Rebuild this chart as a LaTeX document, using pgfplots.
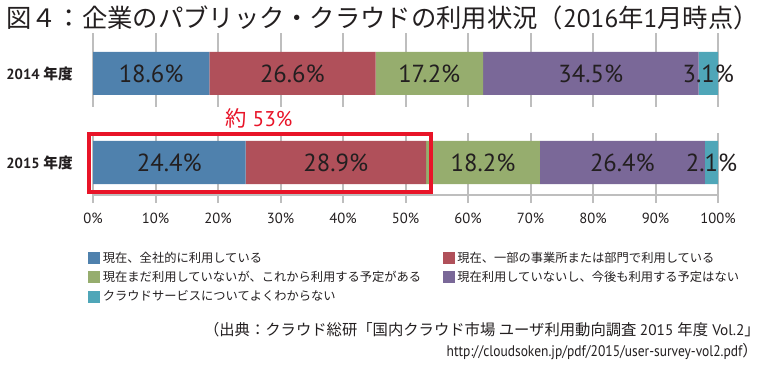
\documentclass[border=0pt]{standalone}
\usepackage{fontspec}
\setmainfont{PT Sans}
\newfontfamily\jp{Noto Sans CJK JP}
\usepackage{pgfplots}
\usepackage{pgfplotstable}
\pgfplotsset{compat=1.18}
\definecolor{cA}{RGB}{79,129,173}
\definecolor{cB}{RGB}{176,80,90}
\definecolor{cC}{RGB}{150,173,110}
\definecolor{cD}{RGB}{122,104,152}
\definecolor{cE}{RGB}{79,166,184}
\definecolor{gridg}{RGB}{190,190,190}
\definecolor{txt}{RGB}{35,31,32}
\definecolor{myred}{RGB}{232,20,40}
\pgfplotstableread{
y a b c d e
-73.5 18.6 26.6 17.2 34.5 3.1
-162.5 24.4 28.9 18.2 26.4 2.1
}\datatable
\pgfplotsset{
  base/.style={scale only axis, width=468.75pt, height=121.5pt,
    xmin=0, xmax=100, ymin=-195, ymax=-33, at={(69.75pt,-146.25pt)}, anchor=south west,
    /pgf/number format/assume math mode=true},
  sq/.style={legend image code/.code={\fill[##1] (0pt,-4.5pt) rectangle (9pt,4.5pt);}},
  lab/.style={only marks, mark=*, mark size=0pt, mark options={draw=none,fill=none}}
}
\begin{document}
\begin{tikzpicture}[x=0.75pt,y=-0.75pt]
\path[use as bounding box] (0,0) rectangle (766,370);
\begin{axis}[base,
  xbar stacked, bar width=32.25pt,
  axis x line=bottom, axis y line=left,
  x axis line style={-, gridg, line width=1.5pt},
  y axis line style={draw=none},
  xtick={0,10,...,100}, xticklabel={\pgfmathprintnumber{\tick}\%},
  xmajorgrids, grid style={gridg, line width=1.5pt},
  tick align=outside, major tick length=6pt,
  xtick style={gridg, line width=1.5pt},
  ytick={-162.5,-73.5}, yticklabels={2015 {\jp 年度}, 2014 {\jp 年度}},
  ytick style={draw=none},
  yticklabel style={anchor=east, inner sep=0pt, xshift=-9pt, font=\bfseries\fontsize{11}{13}\selectfont, text=txt},
  xticklabel style={font=\fontsize{11}{13}\selectfont, text=txt, yshift=-4pt},
  legend columns=2, legend cell align=left,
  legend style={at={(-0.008,-0.333)}, anchor=north west, draw=none, fill=none,
    font=\jp\fontsize{9.2}{10.5}\selectfont, text=txt, inner sep=0pt, row sep=1.3pt,
    /tikz/every even column/.append style={column sep=14pt}},
]
\addplot[fill=cA, draw=none, sq] table[x=a, y=y]{\datatable};
\addplot[fill=cB, draw=none, sq] table[x=b, y=y]{\datatable};
\addplot[fill=cC, draw=none, sq] table[x=c, y=y]{\datatable};
\addplot[fill=cD, draw=none, sq] table[x=d, y=y]{\datatable};
\addplot[fill=cE, draw=none, sq] table[x=e, y=y]{\datatable};
\legend{現在、全社的に利用している, 現在、一部の事業所または部門で利用している, 現在まだ利用していないが、これから利用する予定がある, 現在利用していないし、今後も利用する予定はない, クラウドサービスについてよくわからない}
\end{axis}
\fill[white] (88,107) rectangle (724,133);
\begin{axis}[base, hide axis,
  point meta=explicit,
  nodes near coords={\pgfmathprintnumber[fixed,fixed zerofill,precision=1]{\pgfplotspointmeta}\%},
  every node near coord/.append style={anchor=center, font=\fontsize{18.5}{20}\selectfont, text=txt, inner sep=0pt},
]
\addplot[lab] table[x expr=\thisrow{a}/2, y=y, meta=a]{\datatable};
\addplot[lab] table[x expr=\thisrow{a}+\thisrow{b}/2, y=y, meta=b]{\datatable};
\addplot[lab] table[x expr=\thisrow{a}+\thisrow{b}+\thisrow{c}/2, y=y, meta=c]{\datatable};
\addplot[lab] table[x expr=\thisrow{a}+\thisrow{b}+\thisrow{c}+\thisrow{d}/2, y=y, meta=d]{\datatable};
\addplot[lab] table[x expr=\thisrow{a}+\thisrow{b}+\thisrow{c}+\thisrow{d}+\thisrow{e}/2, y=y, meta=e]{\datatable};
\end{axis}
\draw[myred, line width=3.4pt] (89,134) rectangle (431,192);
\node[myred, font=\fontsize{16}{18}\selectfont, inner sep=0pt] at (259,118) {{\jp 約} 53\%};
\node[anchor=west, inner sep=0pt, text=txt, font=\fontsize{19}{22}\selectfont] at (6,18)
  {{\jp 図４：企業のパブリック・クラウドの利用状況（}2016{\jp 年}1{\jp 月時点）}};
\node[anchor=east, inner sep=0pt, text=txt, font=\fontsize{11.5}{13}\selectfont] at (760,330)
  {{\jp （出典：クラウド総研「国内クラウド市場 ユーザ利用動向調査 }2015 {\jp 年度} Vol.2{\jp 」}};
\node[anchor=east, inner sep=0pt, text=txt, font=\fontsize{11.5}{13}\selectfont] at (758,352)
  {\scalebox{0.88}[1]{http://cloudsoken.jp/pdf/2015/user-survey-vol2.pdf}{\jp ）}};
\end{tikzpicture}
\end{document}
